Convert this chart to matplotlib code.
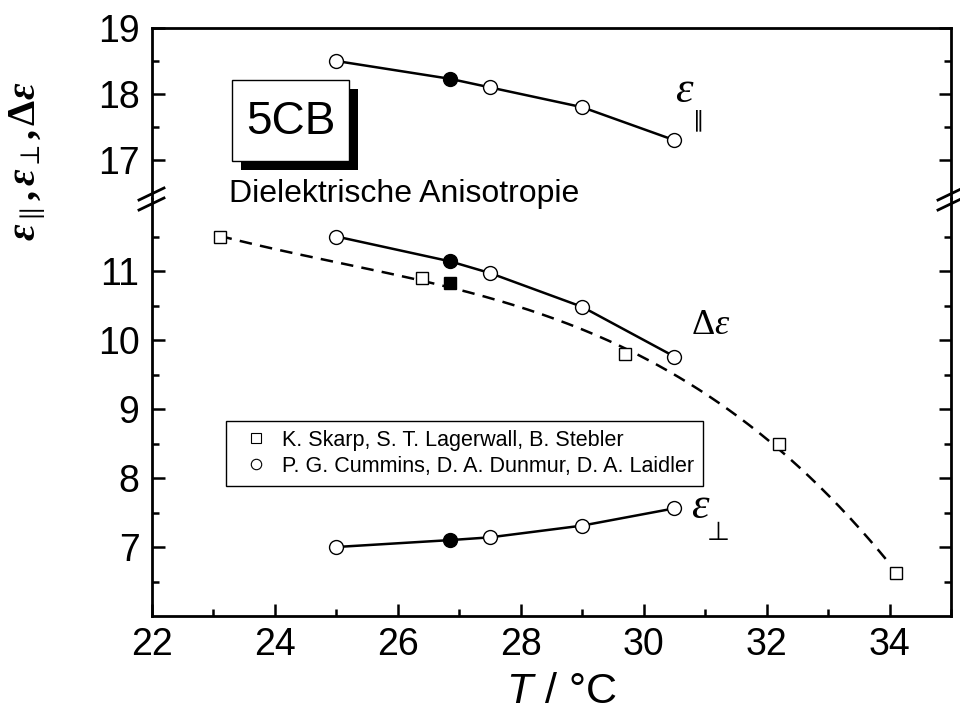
import numpy as np
import matplotlib
matplotlib.use("Agg")
import matplotlib.pyplot as plt
from matplotlib.lines import Line2D
from matplotlib.patches import Rectangle
from matplotlib.ticker import MultipleLocator, FixedLocator

plt.rcParams['font.family'] = ['Liberation Sans', 'DejaVu Sans']
plt.rcParams['mathtext.fontset'] = 'custom'
plt.rcParams['mathtext.rm'] = 'Liberation Serif'
plt.rcParams['mathtext.it'] = 'Liberation Serif:italic'
plt.rcParams['mathtext.bf'] = 'Liberation Serif:bold'
plt.rcParams['mathtext.tt'] = 'Liberation Serif:bold:italic'
plt.rcParams['mathtext.sf'] = 'Liberation Sans:italic'

# Cummins, Dunmur, Laidler (circles); index 1 is the filled point
T_circ = [25.0, 26.85, 27.5, 29.0, 30.5]
eps_par = [18.5, 18.23, 18.1, 17.8, 17.3]
eps_perp = [7.0, 7.1, 7.14, 7.31, 7.56]
d_eps = [11.5, 11.14, 10.97, 10.48, 9.76]
filled_idx = 1

# Skarp, Lagerwall, Stebler (squares)
T_sq = [23.1, 26.4, 29.7, 32.2, 34.1]
d_eps_sq = [11.5, 10.9, 9.79, 8.5, 6.62]
T_sq_filled = [26.85]
d_eps_sq_filled = [10.83]

legend_labels = ["K. Skarp, S. T. Lagerwall, B. Stebler",
                 "P. G. Cummins, D. A. Dunmur, D. A. Laidler"]

W, H = 960, 711
fig = plt.figure(figsize=(W / 100, H / 100), dpi=100)

left, right, bottom, brk, top = 152, 951, 616, 198, 28
ax_lo = fig.add_axes([left / W, 1 - bottom / H, (right - left) / W, (bottom - brk) / H])
ax_hi = fig.add_axes([left / W, 1 - brk / H, (right - left) / W, (brk - top) / H])

ax_lo.set_ylim(6, 6 + (bottom - brk) / 69.0)
ax_hi.set_ylim(19 - (brk - top) / 66.0, 19)
for ax in (ax_lo, ax_hi):
    ax.set_xlim(22, 35)
    for s in ax.spines.values():
        s.set_linewidth(2.0)
    ax.tick_params(which='both', direction='in', width=1.8, labelsize=27,
                   right=True, top=False)
    ax.tick_params(which='major', length=9, pad=9)
    ax.tick_params(which='minor', length=5)

ax_lo.spines['top'].set_visible(False)
ax_hi.spines['bottom'].set_visible(False)
ax_hi.tick_params(axis='x', which='both', bottom=False, labelbottom=False)

ax_lo.xaxis.set_major_locator(MultipleLocator(2))
ax_lo.xaxis.set_minor_locator(MultipleLocator(1))
ax_lo.tick_params(axis='x', pad=8)
ax_lo.yaxis.set_major_locator(FixedLocator([7, 8, 9, 10, 11]))
ax_lo.yaxis.set_minor_locator(FixedLocator([6.5, 7.5, 8.5, 9.5, 10.5, 11.5]))
ax_hi.yaxis.set_major_locator(FixedLocator([17, 18, 19]))
ax_hi.yaxis.set_minor_locator(FixedLocator([17.5, 18.5]))

open_idx = [i for i in range(len(T_circ)) if i != filled_idx]
circ = dict(marker='o', ms=10, mew=1.0, mec='k', ls='none', zorder=4)


def draw_series(ax, y):
    ax.plot(T_circ, y, color='k', lw=1.8, zorder=3)
    ax.plot([T_circ[i] for i in open_idx], [y[i] for i in open_idx], mfc='white', **circ)
    ax.plot([T_circ[filled_idx]], [y[filled_idx]], mfc='k', **circ)


draw_series(ax_hi, eps_par)
draw_series(ax_lo, d_eps)
draw_series(ax_lo, eps_perp)

# fitted dashed curve through the Skarp data
coef = np.polyfit(T_sq, d_eps_sq, 3)
tt = np.linspace(T_sq[0], 33.95, 200)
ax_lo.plot(tt, np.polyval(coef, tt), color='k', lw=1.8, ls=(0, (5, 3.3)), zorder=2)
ax_lo.plot(T_sq, d_eps_sq, marker='s', ms=9, mfc='white', mec='k', mew=1.0, ls='none', zorder=4)
ax_lo.plot(T_sq_filled, d_eps_sq_filled, marker='s', ms=9, mfc='k', mec='k', mew=1.0, ls='none', zorder=4)

# curve labels
ax_hi.text(30.67, 18.05, r'$\varepsilon$', fontsize=32, ha='center', va='center')
ax_hi.text(30.9, 17.6, '∥', fontsize=16, ha='center', va='center', family='DejaVu Sans')
ax_lo.text(31.09, 10.22, r'$\Delta\varepsilon$', fontsize=26, ha='center', va='center')
ax_lo.text(30.93, 7.58, r'$\varepsilon$', fontsize=32, ha='center', va='center')
ax_lo.text(31.22, 7.2, '⊥', fontsize=19, ha='center', va='center', family='DejaVu Sans')

# legend
h_sq = Line2D([], [], ls='none', marker='s', ms=7, mfc='white', mec='k', mew=0.8)
h_ci = Line2D([], [], ls='none', marker='o', ms=7.5, mfc='white', mec='k', mew=0.8)
leg = ax_lo.legend([h_sq, h_ci], legend_labels, loc='upper left',
                   bbox_to_anchor=(226 / W, 1 - 421 / H), bbox_transform=fig.transFigure,
                   fancybox=False, edgecolor='k', framealpha=1, fontsize=15.5,
                   handlelength=2.0, handletextpad=0.2, borderpad=0.4,
                   labelspacing=0.25, borderaxespad=0)
leg.get_frame().set_linewidth(1.0)


def px(x, y):
    return x / W, 1 - y / H


# axis break marks
for xc in (left, right):
    for yc in (194, 204):
        x0, y0 = px(xc - 13, yc + 6)
        x1, y1 = px(xc + 12, yc - 6)
        fig.add_artist(Line2D([x0, x1], [y0, y1], color='k', lw=2.0))

# 5CB box with shadow
bx, by, bw, bh = 232, 80, 117, 81
fig.add_artist(Rectangle(px(bx + 9, by + 9 + bh), bw / W, bh / H, transform=fig.transFigure,
                         facecolor='k', edgecolor='k', lw=0, zorder=5))
fig.add_artist(Rectangle(px(bx, by + bh), bw / W, bh / H, transform=fig.transFigure,
                         facecolor='white', edgecolor='k', lw=1.0, zorder=6))
fig.text(*px(bx + bw / 2, by + bh / 2 + 1), '5CB', fontsize=33, ha='center', va='center', zorder=7)
fig.text(*px(229, 202), 'Dielektrische Anisotropie', fontsize=23, ha='left', va='baseline')

# axis labels
fig.text(*px(561, 692), r'$\mathsf{T}$ / °C', fontsize=31, ha='center', va='center')
fig.text(*px(28, 161),
         r'$\mathtt{\varepsilon}_{\parallel}\mathbf{,}\,\mathtt{\varepsilon}_{\perp}\mathbf{,}\,\mathbf{\Delta}\mathtt{\varepsilon}$',
         fontsize=29, rotation=90, ha='center', va='center')

fig.savefig('out.png', dpi=100)
